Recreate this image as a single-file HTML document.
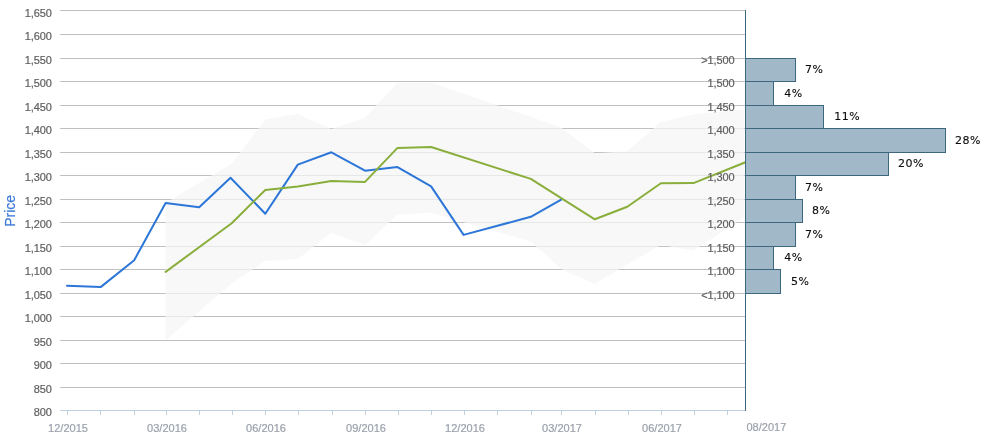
<!DOCTYPE html>
<html><head><meta charset="utf-8"><title>Price chart</title>
<style>
html,body{margin:0;padding:0;background:#fff;}
body{width:987px;height:438px;overflow:hidden;}
svg{display:block;}
.yl{font-family:"Liberation Sans",Arial,sans-serif;font-size:11px;fill:#5e5e5e;stroke:#5e5e5e;stroke-width:0.2px;text-anchor:end;letter-spacing:-0.1px;}
.xl{font-family:"Liberation Sans",Arial,sans-serif;font-size:11px;fill:#9ba1ab;stroke:#9ba1ab;stroke-width:0.2px;text-anchor:middle;}
.dl{font-family:"DejaVu Sans",Verdana,sans-serif;font-size:11px;fill:#0c0c0c;stroke:#0c0c0c;stroke-width:0.12px;letter-spacing:0.5px;}
.ttl{font-family:"Liberation Sans",Arial,sans-serif;font-size:14px;fill:#3b78d8;stroke:#3b78d8;stroke-width:0.15px;text-anchor:middle;}
</style></head><body>
<svg width="987" height="438" viewBox="0 0 987 438">
<rect x="0" y="0" width="987" height="438" fill="#ffffff"/>
<g stroke="#c0c0c0" stroke-width="1" shape-rendering="crispEdges">
<line x1="60" y1="10.5" x2="745" y2="10.5"/>
<line x1="60" y1="34.5" x2="745" y2="34.5"/>
<line x1="60" y1="58.5" x2="745" y2="58.5"/>
<line x1="60" y1="81.5" x2="745" y2="81.5"/>
<line x1="60" y1="105.5" x2="745" y2="105.5"/>
<line x1="60" y1="128.5" x2="745" y2="128.5"/>
<line x1="60" y1="152.5" x2="745" y2="152.5"/>
<line x1="60" y1="175.5" x2="745" y2="175.5"/>
<line x1="60" y1="199.5" x2="745" y2="199.5"/>
<line x1="60" y1="222.5" x2="745" y2="222.5"/>
<line x1="60" y1="246.5" x2="745" y2="246.5"/>
<line x1="60" y1="269.5" x2="745" y2="269.5"/>
<line x1="60" y1="293.5" x2="745" y2="293.5"/>
<line x1="60" y1="316.5" x2="745" y2="316.5"/>
<line x1="60" y1="340.5" x2="745" y2="340.5"/>
<line x1="60" y1="363.5" x2="745" y2="363.5"/>
<line x1="60" y1="387.5" x2="745" y2="387.5"/>
</g>
<polygon points="165.6,203.0 231.7,163.4 265.3,119.6 297.8,113.9 331.4,129.0 365.0,117.8 397.5,82.6 431.1,82.4 561.2,127.5 594.8,153.2 627.3,151.2 660.9,121.9 693.4,114.4 744.0,109.4 744.0,217.6 693.4,250.4 660.9,245.0 627.3,264.5 594.8,284.0 561.2,269.0 530.8,241.4 431.1,212.8 397.5,214.5 365.0,245.0 331.4,232.8 297.8,259.1 265.3,261.1 231.7,283.5 165.6,340.2" fill="#f5f5f5" fill-opacity="0.72"/>
<g stroke="#c0d0e0" stroke-width="1" shape-rendering="crispEdges">
<line x1="60" y1="410.5" x2="745" y2="410.5"/>
<line x1="67.5" y1="411" x2="67.5" y2="415"/>
<line x1="100.5" y1="411" x2="100.5" y2="415"/>
<line x1="134.5" y1="411" x2="134.5" y2="415"/>
<line x1="166.5" y1="411" x2="166.5" y2="415"/>
<line x1="199.5" y1="411" x2="199.5" y2="415"/>
<line x1="232.5" y1="411" x2="232.5" y2="415"/>
<line x1="265.5" y1="411" x2="265.5" y2="415"/>
<line x1="298.5" y1="411" x2="298.5" y2="415"/>
<line x1="332.5" y1="411" x2="332.5" y2="415"/>
<line x1="365.5" y1="411" x2="365.5" y2="415"/>
<line x1="398.5" y1="411" x2="398.5" y2="415"/>
<line x1="431.5" y1="411" x2="431.5" y2="415"/>
<line x1="464.5" y1="411" x2="464.5" y2="415"/>
<line x1="497.5" y1="411" x2="497.5" y2="415"/>
<line x1="531.5" y1="411" x2="531.5" y2="415"/>
<line x1="561.5" y1="411" x2="561.5" y2="415"/>
<line x1="595.5" y1="411" x2="595.5" y2="415"/>
<line x1="628.5" y1="411" x2="628.5" y2="415"/>
<line x1="661.5" y1="411" x2="661.5" y2="415"/>
<line x1="694.5" y1="411" x2="694.5" y2="415"/>
<line x1="727.5" y1="411" x2="727.5" y2="415"/>
</g>
<polyline points="67.0,285.7 100.6,287.1 134.2,260.2 165.6,202.9 199.2,207.2 230.5,177.7 265.3,213.7 297.8,164.6 331.4,152.3 365.0,170.7 397.5,167.1 431.1,186.4 463.6,234.9 530.8,216.8 561.2,199.6" fill="none" stroke="#2c76d7" stroke-width="2" stroke-linejoin="round" stroke-linecap="round"/>
<polyline points="165.6,271.9 231.7,223.3 265.3,190.0 297.8,186.5 331.4,181.1 365.0,181.9 397.5,147.9 431.1,147.0 530.8,178.9 594.8,219.3 627.3,206.7 660.9,183.3 693.4,183.1 745.5,162.2" fill="none" stroke="#8aae3c" stroke-width="2" stroke-linejoin="round" stroke-linecap="round"/>
<g fill="#a0b8c7" stroke="#3d667f" stroke-width="1" shape-rendering="crispEdges">
<rect x="745.5" y="58.5" width="50" height="23"/>
<rect x="745.5" y="81.5" width="28" height="24"/>
<rect x="745.5" y="105.5" width="78" height="23"/>
<rect x="745.5" y="128.5" width="200" height="24"/>
<rect x="745.5" y="152.5" width="143" height="23"/>
<rect x="745.5" y="175.5" width="50" height="24"/>
<rect x="745.5" y="199.5" width="57" height="23"/>
<rect x="745.5" y="222.5" width="50" height="24"/>
<rect x="745.5" y="246.5" width="28" height="23"/>
<rect x="745.5" y="269.5" width="35" height="24"/>
</g>
<line x1="745.5" y1="10" x2="745.5" y2="411" stroke="#3d667f" stroke-width="1" shape-rendering="crispEdges"/>
<text class="yl" x="51.7" y="16.5">1,650</text>
<text class="yl" x="51.7" y="39.5">1,600</text>
<text class="yl" x="51.7" y="63.5">1,550</text>
<text class="yl" x="51.7" y="86.5">1,500</text>
<text class="yl" x="51.7" y="110.5">1,450</text>
<text class="yl" x="51.7" y="133.5">1,400</text>
<text class="yl" x="51.7" y="157.5">1,350</text>
<text class="yl" x="51.7" y="180.5">1,300</text>
<text class="yl" x="51.7" y="204.5">1,250</text>
<text class="yl" x="51.7" y="227.5">1,200</text>
<text class="yl" x="51.7" y="251.5">1,150</text>
<text class="yl" x="51.7" y="274.5">1,100</text>
<text class="yl" x="51.7" y="298.5">1,050</text>
<text class="yl" x="51.7" y="321.5">1,000</text>
<text class="yl" x="51.7" y="345.5">950</text>
<text class="yl" x="51.7" y="368.5">900</text>
<text class="yl" x="51.7" y="392.5">850</text>
<text class="yl" x="51.7" y="415.5">800</text>
<text class="ttl" transform="translate(15,210.9) rotate(-90)" x="0" y="0">Price</text>
<text class="yl" x="734.5" y="64.0">&gt;1,500</text>
<text class="yl" x="734.5" y="87.0">1,500</text>
<text class="yl" x="734.5" y="111.0">1,450</text>
<text class="yl" x="734.5" y="134.0">1,400</text>
<text class="yl" x="734.5" y="158.0">1,350</text>
<text class="yl" x="734.5" y="181.0">1,300</text>
<text class="yl" x="734.5" y="205.0">1,250</text>
<text class="yl" x="734.5" y="228.0">1,200</text>
<text class="yl" x="734.5" y="252.0">1,150</text>
<text class="yl" x="734.5" y="275.0">1,100</text>
<text class="yl" x="734.5" y="299.0">&lt;1,100</text>
<text class="dl" x="805.0" y="73.4">7%</text>
<text class="dl" x="784.2" y="96.9">4%</text>
<text class="dl" x="834.3" y="120.4">11%</text>
<text class="dl" x="955.0" y="143.9">28%</text>
<text class="dl" x="898.0" y="167.4">20%</text>
<text class="dl" x="805.0" y="190.9">7%</text>
<text class="dl" x="812.0" y="214.4">8%</text>
<text class="dl" x="805.0" y="237.9">7%</text>
<text class="dl" x="784.2" y="261.4">4%</text>
<text class="dl" x="791.0" y="284.9">5%</text>
<text class="xl" x="68.0" y="432">12/2015</text>
<text class="xl" x="167.0" y="432">03/2016</text>
<text class="xl" x="266.0" y="432">06/2016</text>
<text class="xl" x="366.0" y="432">09/2016</text>
<text class="xl" x="465.0" y="432">12/2016</text>
<text class="xl" x="562.0" y="432">03/2017</text>
<text class="xl" x="662.0" y="432">06/2017</text>
<text class="xl" style="text-anchor:start" x="746.5" y="431">08/2017</text>
</svg>
</body></html>
